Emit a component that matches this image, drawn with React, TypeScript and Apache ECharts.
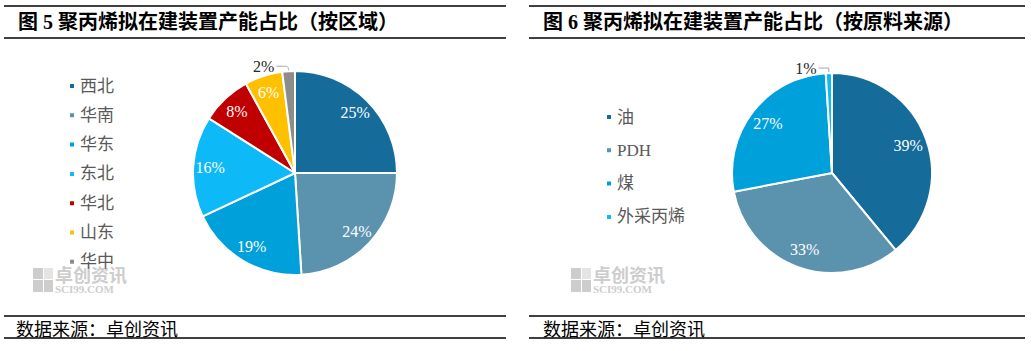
import React, { useEffect, useRef } from 'react';
import * as echarts from 'echarts';

const regionNames = ['西北', '华南', '华东', '东北', '华北', '山东', '华中'];
const regionShares = [25, 24, 19, 16, 8, 6, 2];
const feedNames = ['油', 'PDH', '煤', '外采丙烯'];
const feedShares = [39, 33, 27, 1];

const titleLeft = '图 5 聚丙烯拟在建装置产能占比（按区域）';
const titleRight = '图 6 聚丙烯拟在建装置产能占比（按原料来源）';
const sourceText = '数据来源：卓创资讯';

const regionColors = ['#156C9B', '#5B93AF', '#00A0DA', '#0DB9F6', '#C00000', '#FFC000', '#8C8C8C'];
const feedColors = ['#156C9B', '#5B93AF', '#00A0DA', '#0DB9F6'];

const serif = '"Liberation Serif", "Noto Sans CJK SC", serif';
const cjk = '"Noto Sans CJK SC", sans-serif';

function mainSeries(names: string[], values: number[], colors: string[], center: number[], r: number, ll: any) {
  return {
    type: 'pie',
    center,
    radius: r,
    startAngle: 90,
    clockwise: true,
    avoidLabelOverlap: false,
    emphasis: { disabled: true },
    itemStyle: { borderColor: '#fff', borderWidth: 2 },
    label: { show: false },
    labelLine: { show: false },
    data: names.map((n, i) =>
      values[i] < 3
        ? {
            name: n,
            value: values[i],
            itemStyle: { color: colors[i] },
            label: {
              show: true,
              position: 'outside',
              formatter: '{c}%',
              color: '#262626',
              fontSize: 16,
              fontFamily: serif,
              distanceToLabelLine: 2,
            },
            labelLine: { show: true, length: ll[0], length2: ll[1], smooth: ll[2], lineStyle: { color: '#a6a6a6', width: 1 } },
          }
        : { name: n, value: values[i], itemStyle: { color: colors[i] } }
    ),
  };
}

function labelSeries(names: string[], values: number[], center: number[], r0: number, r: number) {
  return {
    type: 'pie',
    center,
    radius: [r0, r],
    startAngle: 90,
    clockwise: true,
    silent: true,
    avoidLabelOverlap: false,
    emphasis: { disabled: true },
    itemStyle: { color: 'rgba(0,0,0,0)', borderWidth: 0 },
    label: { show: true, position: 'inside', formatter: '{c}%', color: '#fff', fontSize: 16, fontFamily: serif },
    labelLine: { show: false },
    data: names.map((n, i) => ({ name: n, value: values[i], label: { show: values[i] >= 3 } })),
  };
}

function watermark(x: number, y: number) {
  const c = '#cdcdcd';
  return [
    { type: 'rect', shape: { x: x, y: y, width: 10, height: 11 }, style: { fill: c }, z: 0 },
    { type: 'rect', shape: { x: x + 11, y: y, width: 9, height: 11 }, style: { fill: '#e4e4e4' }, z: 0 },
    { type: 'rect', shape: { x: x, y: y + 12, width: 10, height: 12 }, style: { fill: c }, z: 0 },
    { type: 'rect', shape: { x: x + 11, y: y + 12, width: 9, height: 12 }, style: { fill: c }, z: 0 },
    {
      type: 'text', x: x + 22, y: y + 6, z: 0,
      style: { text: '卓创资讯', fontSize: 18, fontWeight: 'bold', fontFamily: cjk, fill: c, verticalAlign: 'middle' },
    },
    {
      type: 'text', x: x + 22, y: y + 21, z: 0,
      style: { text: 'SCI99.COM', fontSize: 11, fontWeight: 'bold', fontFamily: serif, fill: c, verticalAlign: 'middle' },
    },
  ];
}

function hline(x1: number, x2: number, y: number) {
  return { type: 'line', shape: { x1, y1: y, x2, y2: y }, style: { stroke: '#000', lineWidth: 1.5 }, z: 1 };
}

function txt(x: number, y: number, text: string, size: number, bold: boolean) {
  return {
    type: 'text', x, y, z: 1,
    style: { text, fontSize: size, fontWeight: bold ? 'bold' : 'normal', fontFamily: serif, fill: '#000', verticalAlign: 'middle' },
  };
}

export default function App() {
  const ref = useRef<HTMLDivElement>(null);
  useEffect(() => {
    const chart = echarts.init(ref.current!, null, { renderer: 'svg' });
    chart.setOption({
      animation: false,
      backgroundColor: '#fff',
      legend: [
        {
          orient: 'vertical', left: 63, top: 71, itemWidth: 6, itemHeight: 6, itemGap: 9.3, itemTextGap: 5,
          icon: 'rect', selectedMode: false, data: regionNames, z: 5,
          textStyle: { fontSize: 17, lineHeight: 20, color: '#595959', fontFamily: serif },
        },
        {
          orient: 'vertical', left: 600, top: 102, itemWidth: 6, itemHeight: 6, itemGap: 13.3, itemTextGap: 5,
          icon: 'rect', selectedMode: false, data: feedNames, z: 5,
          textStyle: { fontSize: 17, lineHeight: 20, color: '#595959', fontFamily: serif },
        },
      ],
      graphic: [
        ...watermark(33, 268),
        ...watermark(571, 268),
        hline(4, 506, 6),
        hline(4, 506, 38),
        hline(4, 506, 316),
        hline(4, 506, 338),
        hline(529, 1025, 6),
        hline(529, 1025, 38),
        hline(529, 1025, 316),
        hline(529, 1025, 338),
        txt(18, 22, titleLeft, 20, true),
        txt(543, 22, titleRight, 20, true),
        txt(16, 330, sourceText, 18, false),
        txt(543, 330, sourceText, 18, false),
      ],
      series: [
        mainSeries(regionNames, regionShares, regionColors, [295, 173], 102, [5, 12, 0.3]),
        labelSeries(regionNames, regionShares, [295, 173], 62, 102),
        mainSeries(feedNames, feedShares, feedColors, [832, 173], 100, [5, 10, 0]),
        labelSeries(feedNames, feedShares, [832, 173], 56, 100),
      ],
    });
    return () => chart.dispose();
  }, []);
  return (
    <div
      ref={ref}
      style={{ position: 'absolute', left: 0, top: 0, width: 1035, height: 351, background: '#fff' }}
    />
  );
}
